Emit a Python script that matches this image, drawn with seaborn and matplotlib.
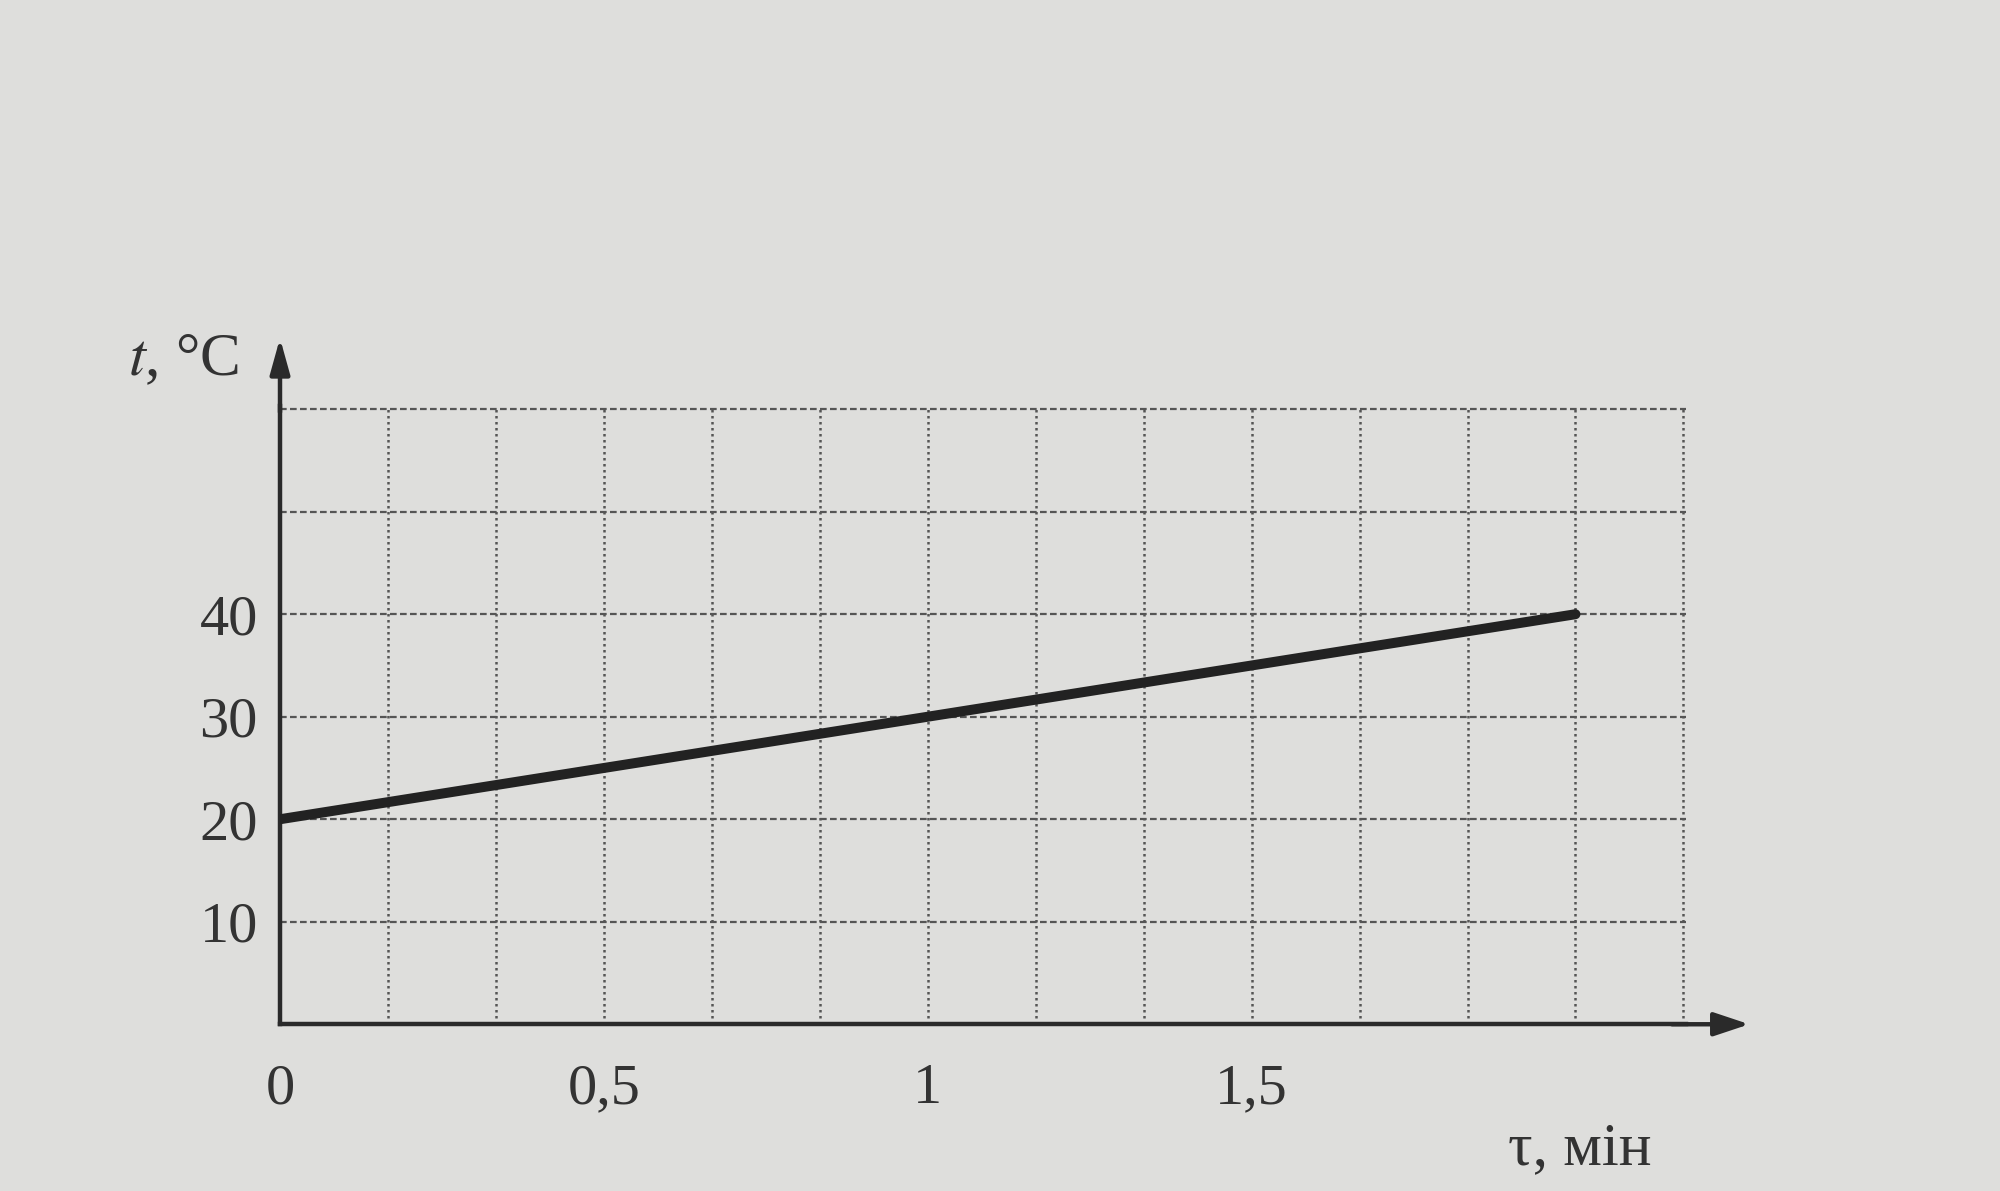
import numpy as np
import pandas as pd
import matplotlib.pyplot as plt
import seaborn as sns

# дані з графіка
time_min = [0, 2]
temp_c = [20, 40]
x_ticks = [0, 0.5, 1, 1.5, 2]
x_labels = ['0', '0,5', '1', '1,5', '']
y_ticks = [10, 20, 30, 40, 50, 60]
y_labels = ['10', '20', '30', '40', '', '']

df = pd.DataFrame({'tau': time_min, 't': temp_c})

sns.set_theme(style='white')
plt.rcParams['font.family'] = ['Liberation Serif', 'DejaVu Serif']
plt.rcParams['mathtext.fontset'] = 'stix'

paper = '#dededc'
ink = '#2a2a2a'

fig = plt.figure(figsize=(10, 5.955), dpi=200, facecolor=paper)
ax = fig.add_axes([0.14, 0.14, 0.703, 0.519])
ax.set_facecolor(paper)

sns.lineplot(data=df, x='tau', y='t', ax=ax, color='#222222', linewidth=3.6,
             solid_capstyle='round', zorder=5)

ax.set_xlim(0, 13 / 6 + 0.004)
ax.set_ylim(0, 60.3)

# сітка: вертикальні лінії кожні 10 с (1/6 хв), горизонтальні кожні 10 °C
ax.set_xticks(x_ticks)
ax.set_xticklabels(x_labels)
ax.set_xticks(np.arange(1, 14) / 6, minor=True)
ax.set_yticks(y_ticks)
ax.set_yticklabels(y_labels)
grid_x = dict(linestyle=(0, (1, 1.4)), color='#555555', linewidth=0.9)
ax.xaxis.grid(True, which='minor', **grid_x)
ax.xaxis.grid(True, which='major', **grid_x)
ax.yaxis.grid(True, which='major', linestyle=(0, (3, 1.5)), color='#555555', linewidth=0.8)
ax.set_axisbelow(True)

ax.tick_params(axis='both', which='major', direction='in', length=9, width=1.8,
               color=ink, labelsize=21, labelcolor='#333333')
ax.tick_params(axis='x', which='major', pad=14)
ax.tick_params(axis='y', which='major', pad=8)
ax.tick_params(axis='x', which='minor', length=0)

for side in ['top', 'right']:
    ax.spines[side].set_visible(False)
for side in ['left', 'bottom']:
    ax.spines[side].set_color(ink)
    ax.spines[side].set_linewidth(1.6)

# стрілки осей
ax.annotate('', xy=(1.045, 0), xytext=(0.99, 0), xycoords='axes fraction',
            arrowprops=dict(arrowstyle='-|>,head_length=0.9,head_width=0.3',
                            color=ink, lw=1.6, shrinkA=0, shrinkB=0))
ax.annotate('', xy=(0, 1.11), xytext=(0, 0.99), xycoords='axes fraction',
            arrowprops=dict(arrowstyle='-|>,head_length=0.9,head_width=0.25',
                            color=ink, lw=1.6, shrinkA=0, shrinkB=0))

ax.set_xlabel('')
ax.set_ylabel('')
fig.text(0.092, 0.697, r'$t$, °C', fontsize=22, color='#333333', ha='center', va='center')
fig.text(0.79, 0.035, 'τ, мін', fontsize=22, color='#333333', ha='center', va='center')

fig.savefig('out.png', dpi=200, facecolor=paper)
